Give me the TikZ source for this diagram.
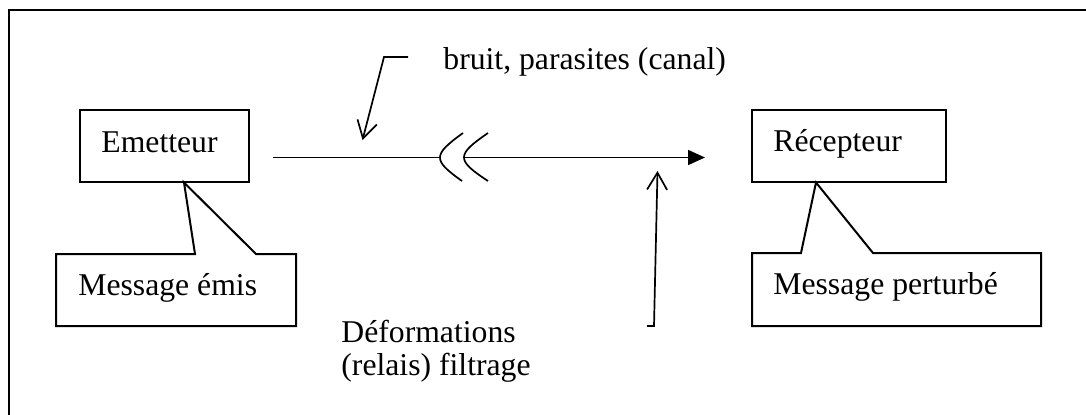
\documentclass[tikz,border=0pt]{standalone}
\usepackage{fontspec}
\setmainfont{Liberation Serif}
\usetikzlibrary{arrows.meta}
\begin{document}
\begin{tikzpicture}[x=0.5pt,y=-0.5pt,
  lbl/.style={inner sep=0pt,anchor=base west,font=\fontsize{15.85}{16.5}\selectfont},
  boxline/.style={draw=black,line width=1pt,line join=miter},
  frameline/.style={draw=black,line width=1.1pt},
  conn/.style={draw=black,line width=0.85pt},
  openhead/.style={-{Straight Barb[length=8.5pt,width=10pt,line width=0.85pt]}},
  filledhead/.style={-{Triangle[length=8.5pt,width=7.5pt]}}]
\useasboundingbox (0,0) rectangle (1086,414);
% outer frame (top and left visible)
\draw[frameline] (1090,10) -- (9,10) -- (9,420);

% Emetteur box
\node[boxline,inner sep=0pt,minimum width=84.5pt,minimum height=36pt] (emetbox) at (164.5,146) {};
\node[lbl] (emet) at (101,152) {Emetteur};
% Message emis callout
\coordinate (apexE) at (184,182.5);
\coordinate (cE1) at (195,254);
\coordinate (cE2) at (256,254);
\draw[boxline] (apexE) -- (cE1) -- (56,254) -- (56,326) -- (296,326) -- (296,254) -- (cE2) -- cycle;
\node[lbl] (msgE) at (78,295) {Message émis};

% Recepteur box
\node[boxline,inner sep=0pt,minimum width=97pt,minimum height=36pt] (recbox) at (849,146) {};
\node[lbl] (recep) at (773,151) {Récepteur};
% Message perturbe callout
\coordinate (apexR) at (816,182.5);
\coordinate (cR1) at (801,253);
\coordinate (cR2) at (873,253);
\draw[boxline] (apexR) -- (cR1) -- (752,253) -- (752,326) -- (1041,326) -- (1041,253) -- (cR2) -- cycle;
\node[lbl] (msgR) at (773,294) {Message perturbé};

% main channel line
\coordinate (lineA) at (273,157.5);
\coordinate (breakA) at (440,157.5);
\coordinate (breakB) at (464,157.5);
\coordinate (lineEnd) at (705,157.5);
\draw[conn] (lineA) -- (breakA);
\draw[conn] (463,133) .. controls (432.5,155) and (432.5,160) .. (462,181);
\draw[conn] (488,133) .. controls (456,155) and (456,160) .. (488,181);
\draw[conn,filledhead] (breakB) -- (lineEnd);

% bruit label and arrow
\node[lbl] (bruit) at (443,69) {bruit, parasites (canal)};
\coordinate (bA) at (408,57);
\coordinate (bB) at (384,57);
\coordinate (bTip) at (362.5,140);
\draw[conn,openhead,line join=miter] (bA) -- (bB) -- (bTip);

% deformations label and arrow
\node[lbl] (deform) at (341,342) {\begin{tabular}[t]{@{}l@{}}Déformations\\(relais) filtrage\end{tabular}};
\coordinate (dA) at (647,326);
\coordinate (dB) at (654,326);
\coordinate (dTip) at (657.5,171);
\draw[conn,openhead,line join=miter] (dA) -- (dB) -- (dTip);
\end{tikzpicture}
\end{document}
